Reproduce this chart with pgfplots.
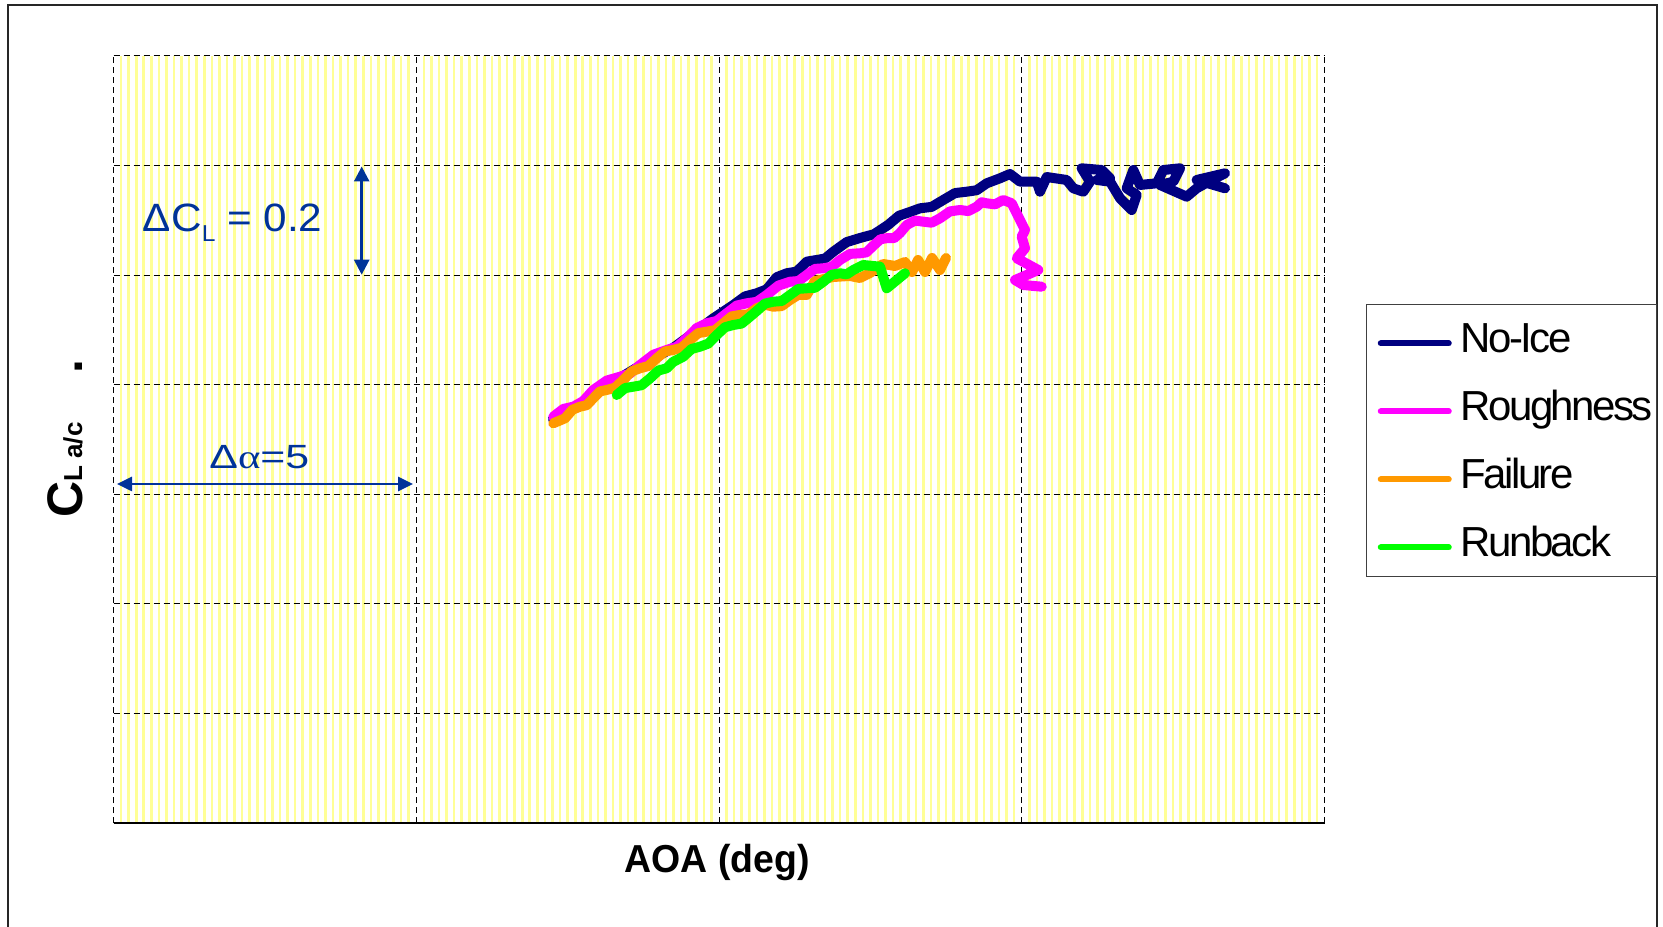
\documentclass[border=0pt]{standalone}
\usepackage{pgfplots}
\pgfplotsset{compat=1.18}
\usepackage{fontspec}
\setmainfont{Liberation Sans}
\newfontfamily\legfont{Liberation Sans}[LetterSpace=-6]
\newfontfamily\symfont{Liberation Serif}
\usetikzlibrary{arrows.meta}
\definecolor{navyc}{RGB}{0,0,128}
\definecolor{magc}{RGB}{255,0,255}
\definecolor{orgc}{RGB}{255,153,0}
\definecolor{grnc}{RGB}{0,255,0}
\definecolor{annc}{RGB}{0,51,153}
\definecolor{stripe}{RGB}{255,255,150}
\begin{document}
\begin{tikzpicture}
\useasboundingbox (0,0) rectangle (831.5pt,463pt);
\begin{scope}[x=0.5pt,y=0.5pt]
\draw[black!85, line width=1pt] (8,-5) -- (8,921) -- (1657,921) -- (1657,-5);
\end{scope}
\begin{axis}[
  at={(56.75pt,51.5pt)}, anchor=south west,
  scale only axis, width=605.5pt, height=383.5pt,
  xmin=-5, xmax=15, ymin=0, ymax=1.4,
  xtick={-5,0,5,10,15}, ytick={0,0.2,0.4,0.6,0.8,1.0,1.2,1.4},
  minor x tick num=39,
  xticklabels={}, yticklabels={},
  major tick length=0pt, minor tick length=0pt,
  xmajorgrids, ymajorgrids, xminorgrids,
  minor grid style={stripe, line width=1.3pt},
  major grid style={black, line width=0.5pt, dash pattern=on 3pt off 2pt},
  axis x line*=bottom, axis y line*=left,
  x axis line style={-, black, line width=1pt},
  y axis line style={draw=none},
  every axis x label/.style={at={(axis description cs:0.4986,-0.0639)}, anchor=base, inner sep=0pt},
  every axis y label/.style={at={(axis description cs:-0.026,0.3973)}, rotate=90, anchor=base west, inner sep=0pt},
  xlabel={\scalebox{0.96}[1]{\bfseries\fontsize{19.5pt}{20pt}\selectfont AOA (deg)}},
  ylabel={\bfseries{\fontsize{25pt}{26pt}\selectfont C}{\fontsize{13pt}{14pt}\selectfont L a/c}\hspace{24.7pt}{\fontsize{25pt}{26pt}\selectfont .}},
  legend style={at={(1.0343,0.6767)}, anchor=north west, draw=black!75, line width=0.5pt, fill=white,
    font=\legfont\fontsize{21pt}{25pt}\selectfont, inner xsep=5.6pt, inner ysep=6.5pt, row sep=13pt, column sep=4.4pt,
    nodes={text height=17.35pt, text depth=3.65pt, inner xsep=0pt, inner ysep=0pt, text width=92.4pt}},
  legend cell align=left,
  legend image code/.code={\draw[line width=3pt, line cap=round] (0pt,-2.5pt) -- (34pt,-2.5pt);},
  every axis plot/.append style={line width=5pt, line join=round, line cap=round},
]
\addplot[navyc, line width=5pt] coordinates {(2.258,0.7374) (2.704,0.7630) (3.145,0.7977) (3.806,0.8420) (4.240,0.8670) (4.686,0.9030) (4.906,0.9212) (5.236,0.9455) (5.430,0.9612) (5.623,0.9669) (5.788,0.9741) (5.953,0.9962) (6.118,1.0034) (6.283,1.0065) (6.449,1.0246) (6.614,1.0277) (6.751,1.0303) (6.888,1.0428) (7.108,1.0603) (7.329,1.0678) (7.560,1.0747) (7.791,1.0915) (7.973,1.1084) (8.154,1.1153) (8.320,1.1220) (8.512,1.1246) (8.704,1.1372) (8.898,1.1498) (9.091,1.1523) (9.256,1.1550) (9.421,1.1676) (9.641,1.1768) (9.806,1.1846) (9.971,1.1706) (10.247,1.1706) (10.301,1.1523) (10.412,1.1791) (10.742,1.1737) (10.851,1.1585) (11.017,1.1523) (11.127,1.1706) (10.990,1.1950) (11.320,1.1919) (11.458,1.1768) (11.238,1.1737) (11.458,1.1706) (11.623,1.1403) (11.816,1.1189) (11.898,1.1463) (11.733,1.1585) (11.842,1.1919) (11.953,1.1646) (12.229,1.1676) (12.338,1.1919) (12.614,1.1950) (12.503,1.1706) (12.283,1.1646) (12.724,1.1432) (12.889,1.1585) (13.137,1.1737) (13.357,1.1859) (12.889,1.1737) (13.357,1.1585)};
\addlegendentry{No-Ice}
\addplot[magc, line width=5pt] coordinates {(2.263,0.7416) (2.429,0.7558) (2.594,0.7599) (2.759,0.7702) (2.924,0.7904) (3.145,0.8075) (3.365,0.8146) (3.530,0.8203) (3.695,0.8360) (3.916,0.8547) (4.136,0.8634) (4.302,0.8691) (4.467,0.8847) (4.632,0.9034) (4.797,0.9121) (4.962,0.9163) (5.127,0.9304) (5.293,0.9445) (5.458,0.9486) (5.623,0.9512) (5.788,0.9638) (5.981,0.9809) (6.173,0.9880) (6.311,0.9892) (6.448,1.0003) (6.586,1.0114) (6.723,1.0125) (6.861,1.0151) (6.998,1.0277) (7.164,1.0388) (7.329,1.0399) (7.436,1.0416) (7.543,1.0532) (7.667,1.0655) (7.791,1.0678) (7.890,1.0674) (7.989,1.0769) (8.100,1.0915) (8.237,1.0996) (8.374,1.0976) (8.512,1.0957) (8.650,1.1038) (8.815,1.1164) (8.980,1.1189) (9.118,1.1169) (9.256,1.1249) (9.339,1.1330) (9.421,1.1311) (9.558,1.1292) (9.695,1.1372) (9.834,1.1311) (9.943,1.1067) (10.054,1.0824) (9.999,1.0702) (10.054,1.0490) (9.917,1.0308) (10.273,1.0094) (9.889,0.9911) (10.026,0.9820) (10.330,0.9789)};
\addlegendentry{Roughness}
\addplot[orgc, line width=5pt] coordinates {(2.263,0.7296) (2.457,0.7387) (2.580,0.7543) (2.704,0.7599) (2.814,0.7626) (2.924,0.7752) (3.035,0.7878) (3.145,0.7904) (3.282,0.7945) (3.419,0.8086) (3.557,0.8243) (3.695,0.8300) (3.833,0.8341) (3.971,0.8482) (4.108,0.8608) (4.245,0.8634) (4.383,0.8675) (4.521,0.8816) (4.659,0.8942) (4.797,0.8968) (4.934,0.8995) (5.071,0.9121) (5.209,0.9247) (5.347,0.9273) (5.485,0.9284) (5.623,0.9395) (5.760,0.9460) (5.897,0.9424) (6.035,0.9435) (6.173,0.9546) (6.311,0.9642) (6.448,0.9638) (6.585,0.9893) (6.883,0.9966) (7.164,0.9985) (7.329,0.9948) (7.494,1.0039) (7.709,1.0204) (7.907,1.0167) (8.072,1.0240) (8.187,1.0057) (8.287,1.0277) (8.402,1.0057) (8.518,1.0313) (8.650,1.0094) (8.749,1.0313)};
\addlegendentry{Failure}
\addplot[grnc, line width=5pt] coordinates {(3.311,0.7812) (3.448,0.7938) (3.585,0.7964) (3.723,0.7991) (3.861,0.8117) (3.999,0.8259) (4.136,0.8300) (4.240,0.8415) (4.410,0.8512) (4.548,0.8653) (4.686,0.8694) (4.824,0.8751) (4.962,0.8907) (5.099,0.9049) (5.236,0.9090) (5.374,0.9116) (5.512,0.9242) (5.623,0.9346) (5.760,0.9481) (5.897,0.9515) (6.035,0.9527) (6.173,0.9638) (6.311,0.9749) (6.448,0.9760) (6.586,0.9770) (6.723,0.9880) (6.861,1.0007) (6.998,1.0034) (7.108,1.0014) (7.218,1.0094) (7.383,1.0185) (7.659,1.0154) (7.770,0.9760) (8.072,1.0034)};
\addlegendentry{Runback}
\end{axis}
\begin{scope}[x=0.5pt,y=0.5pt]
\draw[annc, line width=1.3pt, {Triangle[length=7.5pt,width=7.5pt]}-{Triangle[length=7.5pt,width=7.5pt]}] (361.7,759.5) -- (361.7,651.3);
\draw[annc, line width=1.3pt, {Triangle[length=7.5pt,width=7pt]}-{Triangle[length=7.5pt,width=7pt]}] (117,442) -- (413,442);
\node[anchor=base west, annc, inner sep=0pt] at (141.7,694.3) {\scalebox{1.07}[1]{\fontsize{19.75pt}{20pt}\selectfont Δ\kern0.5pt C\raisebox{-5pt}{\fontsize{11.5pt}{12pt}\selectfont L} = 0.2}};
\node[anchor=base west, annc, inner sep=0pt] at (209,457.7) {\scalebox{1.275}[1]{\fontsize{16.8pt}{17pt}\selectfont Δ{\symfont α}=5}};
\end{scope}
\end{tikzpicture}
\end{document}
